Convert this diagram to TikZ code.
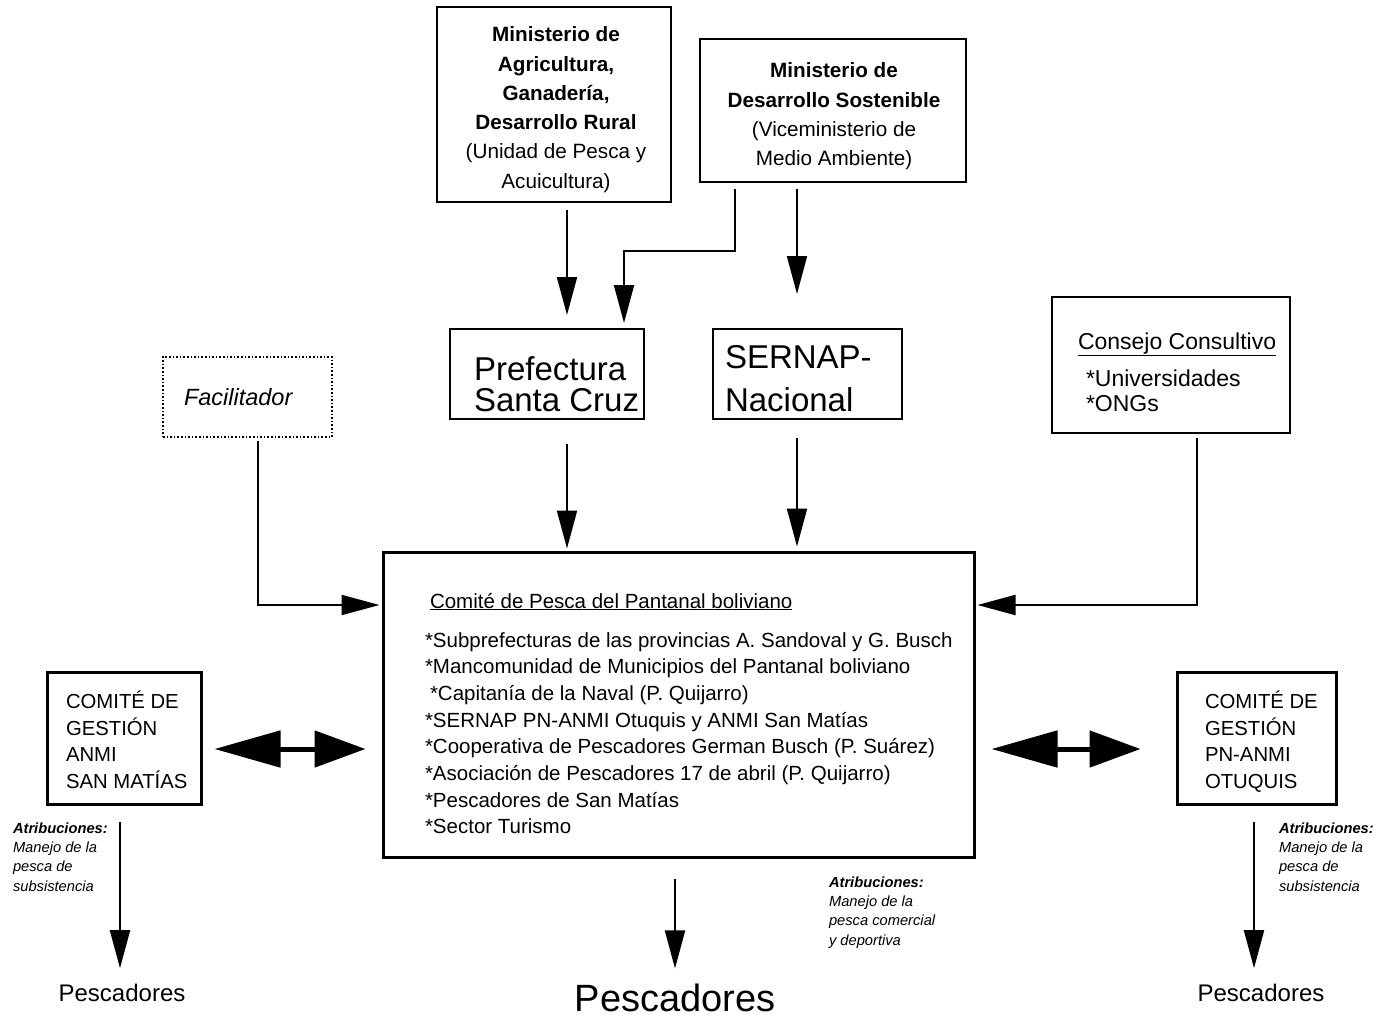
\documentclass[tikz,border=0pt]{standalone}
\usepackage{fontspec}
\setmainfont{Liberation Sans}
\usetikzlibrary{arrows.meta}
\newcommand\fsz[2]{\fontsize{#1}{#2}\selectfont}
\newcommand\tabl[1]{\begin{tabular}[t]{@{}l@{}}#1\end{tabular}}
\newcommand\tabc[1]{\begin{tabular}[t]{@{}c@{}}#1\end{tabular}}
\begin{document}
\begin{tikzpicture}[x=1pt,y=-1pt,
  box/.style={draw, line width=2pt, inner sep=0pt},
  heavybox/.style={draw, line width=3pt, inner sep=0pt},
  dotbox/.style={draw, line width=1.6pt, dash pattern=on 1.6pt off 2pt, inner sep=0pt},
  txt/.style={inner sep=0pt, outer sep=0pt},
  arr/.style={line width=2pt, -{Triangle[length=38pt,width=20pt]}},
  dbl/.style={line width=5pt, {Triangle[length=66pt,width=36pt]}-{Triangle[length=51pt,width=36pt]}},
]
\useasboundingbox (0,0) rectangle (1376,1017);
% boxes
\node[box, minimum width=234pt, minimum height=195pt] (agri) at (554,104.5) {};
\node[box, minimum width=266pt, minimum height=143pt] (desa) at (833,110.5) {};
\node[box, minimum width=194pt, minimum height=90pt] (pref) at (547,374) {};
\node[box, minimum width=189pt, minimum height=90pt] (sern) at (807.5,374) {};
\node[box, minimum width=238pt, minimum height=136pt] (cons) at (1171,365) {};
\node[dotbox, minimum width=169pt, minimum height=80pt] (faci) at (247.5,397) {};
\node[heavybox, minimum width=591pt, minimum height=305pt] (comite) at (678.5,704.5) {};
\node[heavybox, minimum width=154pt, minimum height=132pt] (cgl) at (124,738) {};
\node[heavybox, minimum width=159pt, minimum height=132pt] (cgr) at (1256.5,738) {};
% texts
\node[txt, anchor=base, font=\fsz{20.7}{29.3}] (agrit) at (556,41.7)
  {\tabc{\textbf{Ministerio de}\\\textbf{Agricultura,}\\\textbf{Ganadería,}\\\textbf{Desarrollo Rural}\\(Unidad de Pesca y\\Acuicultura)}};
\node[txt, anchor=base, font=\fsz{20.7}{29.3}] (desat) at (834,77.7)
  {\tabc{\textbf{Ministerio de}\\\textbf{Desarrollo Sostenible}\\(Viceministerio de\\Medio Ambiente)}};
\node[txt, anchor=base west, font=\fsz{33}{40}] (preft1) at (474,380) {Prefectura};
\node[txt, anchor=base west, font=\fsz{33}{40}] (preft2) at (474,411.5) {Santa Cruz};
\node[txt, anchor=base west, font=\fsz{33}{40}] (sernt1) at (725,368.3) {SERNAP-};
\node[txt, anchor=base west, font=\fsz{33}{40}] (sernt2) at (725,411.7) {Nacional};
\node[txt, anchor=base west, font=\fsz{23}{28}] (const) at (1078,349.3) {\underline{Consejo Consultivo}};
\node[txt, anchor=base west, font=\fsz{23}{25.7}] (consl) at (1086,386) {\tabl{*Universidades\\\relax*ONGs}};
\node[txt, anchor=base west, font=\fsz{23.5}{28}\itshape] (facit) at (184,405) {Facilitador};
\node[txt, anchor=base west, font=\fsz{20.5}{26.7}] (comt) at (430,608) {\underline{Comité de Pesca del Pantanal boliviano}};
\node[txt, anchor=base west, font=\fsz{20.5}{26.7}] (coml) at (425,647)
  {\tabl{*Subprefecturas de las provincias A. Sandoval y G. Busch\\\relax
  *Mancomunidad de Municipios del Pantanal boliviano\\\relax
  \hspace*{5pt}*Capitanía de la Naval (P. Quijarro)\\\relax
  *SERNAP PN-ANMI Otuquis y ANMI San Matías\\\relax
  *Cooperativa de Pescadores German Busch (P. Suárez)\\\relax
  *Asociación de Pescadores 17 de abril (P. Quijarro)\\\relax
  *Pescadores de San Matías\\\relax
  *Sector Turismo}};
\node[txt, anchor=base west, font=\fsz{20.3}{26.7}] (cglt) at (66,708.5) {\tabl{COMITÉ DE\\GESTIÓN\\ANMI\\SAN MATÍAS}};
\node[txt, anchor=base west, font=\fsz{20.3}{26.7}] (cgrt) at (1205,708.5) {\tabl{COMITÉ DE\\GESTIÓN\\PN-ANMI\\OTUQUIS}};
\node[txt, anchor=base west, font=\fsz{14.7}{19.4}\itshape] (atl) at (13,833) {\tabl{\textbf{Atribuciones:}\\Manejo de la\\pesca de\\subsistencia}};
\node[txt, anchor=base west, font=\fsz{14.7}{19.4}\itshape] (atr) at (1279,833) {\tabl{\textbf{Atribuciones:}\\Manejo de la\\pesca de\\subsistencia}};
\node[txt, anchor=base west, font=\fsz{14.7}{19.4}\itshape] (atc) at (829,887) {\tabl{\textbf{Atribuciones:}\\Manejo de la\\pesca comercial\\y deportiva}};
\node[txt, anchor=base, font=\fsz{24}{28}] (pl) at (122,1001.6) {Pescadores};
\node[txt, anchor=base, font=\fsz{38}{45}] (pc) at (675,1011) {Pescadores};
\node[txt, anchor=base, font=\fsz{24}{28}] (pr) at (1261,1001.6) {Pescadores};
% connectors
\draw[arr] ([xshift=13pt,yshift=-7pt]agri.south) -- ([xshift=20pt,yshift=13pt]pref.north);
\draw[arr] ([xshift=-98pt,yshift=-6pt]desa.south) -- ++(0,62) -| ([xshift=77pt,yshift=5pt]pref.north);
\draw[arr] ([xshift=-36pt,yshift=-6pt]desa.south) -- ([xshift=-10.5pt,yshift=34pt]sern.north);
\draw[arr] ([xshift=20pt,yshift=-24pt]pref.south) -- ([xshift=-111.5pt,yshift=2pt]comite.north);
\draw[arr] ([xshift=-10.5pt,yshift=-18pt]sern.south) -- ([xshift=118.5pt,yshift=4pt]comite.north);
\draw[arr] ([xshift=10.5pt,yshift=-3pt]faci.south) |- ([xshift=-2pt,yshift=99.5pt]comite.west);
\draw[arr] ([xshift=26pt,yshift=-4pt]cons.south) |- ([xshift=2pt,yshift=99.5pt]comite.east);
\draw[arr] ([xshift=-3.5pt,yshift=-20pt]comite.south) -- ([yshift=15pt]pc.north);
\draw[arr] ([xshift=-4pt,yshift=-16pt]cgl.south) -- ([xshift=-2pt,yshift=16pt]pl.north);
\draw[arr] ([xshift=-2.5pt,yshift=-16pt]cgr.south) -- ([xshift=-7pt,yshift=16pt]pr.north);
\draw[dbl] ([xshift=12pt,yshift=-11pt]cgl.east) -- ([xshift=-16pt,yshift=-44.5pt]comite.west);
\draw[dbl] ([xshift=16pt,yshift=-44.5pt]comite.east) -- ([xshift=-35pt,yshift=-11pt]cgr.west);
\end{tikzpicture}
\end{document}
